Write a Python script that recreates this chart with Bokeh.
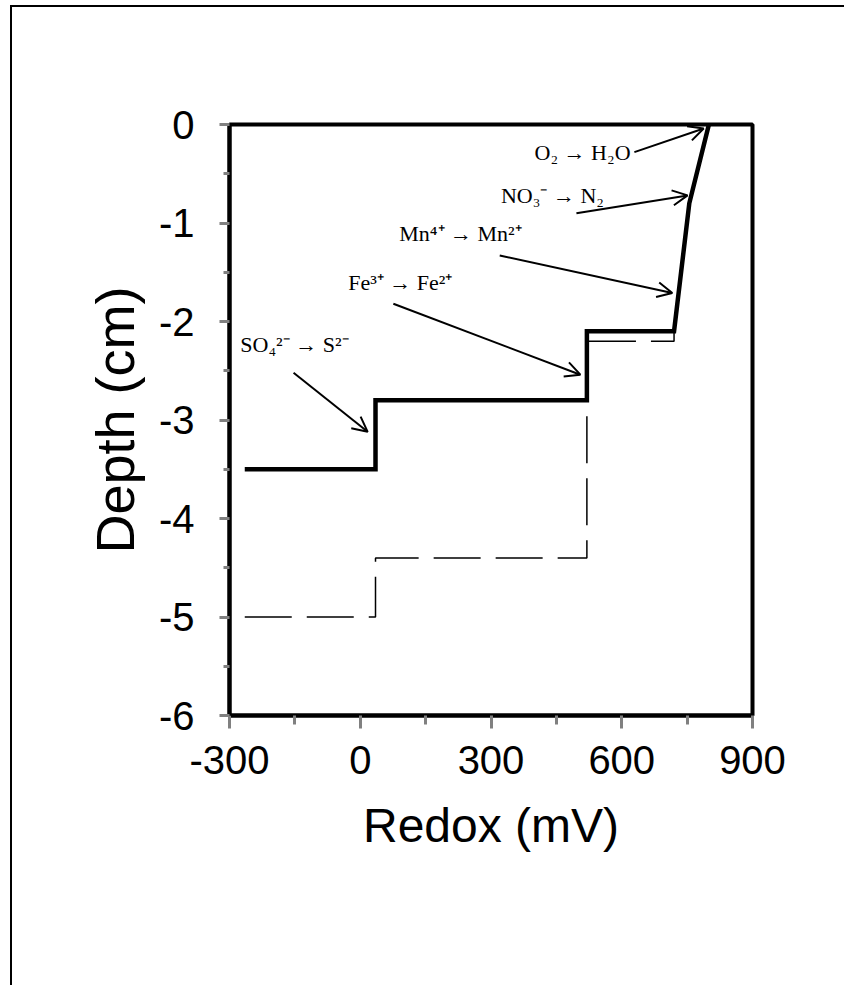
from bokeh.plotting import figure
from bokeh.models import ColumnDataSource, Range1d, FixedTicker, Arrow, OpenHead
from bokeh.core.properties import value
from bokeh.embed import file_html
from bokeh.resources import INLINE

# ---- data ----
solid_redox = [-265, 35, 35, 520, 520, 720, 755, 800]
solid_depth = [-3.5, -3.5, -2.8, -2.8, -2.1, -2.1, -0.8, 0.0]

dashed_redox = [-265, 35, 35, 520, 520, 720, 720, 755, 800]
dashed_depth = [-5.0, -5.0, -4.4, -4.4, -2.2, -2.2, -2.1, -0.8, 0.0]

labels = ["O₂ → H₂O", "NO₃⁻ → N₂", "Mn⁴⁺ → Mn²⁺", "Fe³⁺ → Fe²⁺", "SO₄²⁻ → S²⁻"]
label_redox = [510, 441, 230, 92, -151]
label_depth = [-0.28, -0.72, -1.11, -1.60, -2.23]

arrow_x0 = [629, 496, 320, 76, -153]
arrow_y0 = [-0.28, -0.90, -1.33, -1.82, -2.52]
arrow_x1 = [788, 751, 716, 505, 17]
arrow_y1 = [-0.04, -0.72, -1.71, -2.54, -3.12]

x_ticks = [-300, 0, 300, 600, 900]
x_tick_labels = ["-300", "0", "300", "600", "900"]
x_minor = [-150, 150, 450, 750]
y_ticks = [-6, -5, -4, -3, -2, -1, 0]
y_tick_labels = ["-6", "-5", "-4", "-3", "-2", "-1", "0"]
y_minor = [-5.5, -4.5, -3.5, -2.5, -1.5, -0.5]

x_label = "Redox (mV)"
y_label = "Depth (cm)"

# ---- figure ----
p = figure(
    frame_width=523, frame_height=591,
    min_border_left=217, min_border_right=92,
    min_border_top=117, min_border_bottom=270,
    x_range=Range1d(-300, 900), y_range=Range1d(-6, 0),
    output_backend="svg", toolbar_location=None,
    background_fill_color="white", border_fill_color="white",
)
p.styles = {"margin-left": "10px", "margin-top": "5px",
            "border-left": "2px solid black", "border-top": "2px solid black"}

p.xgrid.visible = False
p.ygrid.visible = False
p.outline_line_color = "black"
p.outline_line_width = 4

p.xaxis.ticker = FixedTicker(ticks=x_ticks, minor_ticks=x_minor)
p.yaxis.ticker = FixedTicker(ticks=y_ticks, minor_ticks=y_minor)
p.xaxis.major_label_overrides = {t: s for t, s in zip(x_ticks, x_tick_labels)}
p.yaxis.major_label_overrides = {t: s for t, s in zip(y_ticks, y_tick_labels)}

for ax in (p.xaxis[0], p.yaxis[0]):
    ax.axis_line_color = "black"
    ax.axis_line_width = 4
    ax.major_tick_line_color = "#808080"
    ax.minor_tick_line_color = "#808080"
    ax.major_tick_line_width = 3
    ax.minor_tick_line_width = 3
    ax.major_tick_in = 0
    ax.minor_tick_in = 0
    ax.major_label_text_font = "Liberation Sans"
    ax.major_label_text_font_size = "40px"
    ax.major_label_text_color = "black"
    ax.axis_label_text_font = "Liberation Sans"
    ax.axis_label_text_font_size = "48px"
    ax.axis_label_text_font_style = "normal"
    ax.axis_label_text_color = "black"

p.yaxis.axis_label_text_font_size = "54px"
p.xaxis.major_tick_out = 13
p.xaxis.minor_tick_out = 9
p.yaxis.major_tick_out = 10
p.yaxis.minor_tick_out = 6
p.xaxis.major_label_standoff = 17
p.yaxis.major_label_standoff = 25
p.xaxis.axis_label = x_label
p.yaxis.axis_label = y_label
p.xaxis.axis_label_standoff = 22
p.yaxis.axis_label_standoff = 11

# ---- lines ----
p.line(dashed_redox, dashed_depth, line_color="black", line_width=1.5, line_dash="47 15")
p.line(solid_redox, solid_depth, line_color="black", line_width=4.5, line_join="miter")

# ---- annotations ----
src = ColumnDataSource(dict(x=label_redox, y=label_depth, t=labels))
p.text(x="x", y="y", text="t", source=src, text_font=value("Liberation Serif"),
       text_font_size="22px", text_align="center", text_baseline="middle", text_color="black")

asrc = ColumnDataSource(dict(x0=arrow_x0, y0=arrow_y0, x1=arrow_x1, y1=arrow_y1))
p.add_layout(Arrow(x_start="x0", y_start="y0", x_end="x1", y_end="y1", source=asrc,
                   line_color="black", line_width=2,
                   end=OpenHead(size=15, line_width=2, line_color="black")))

open("out.html", "w").write(file_html(p, INLINE))
